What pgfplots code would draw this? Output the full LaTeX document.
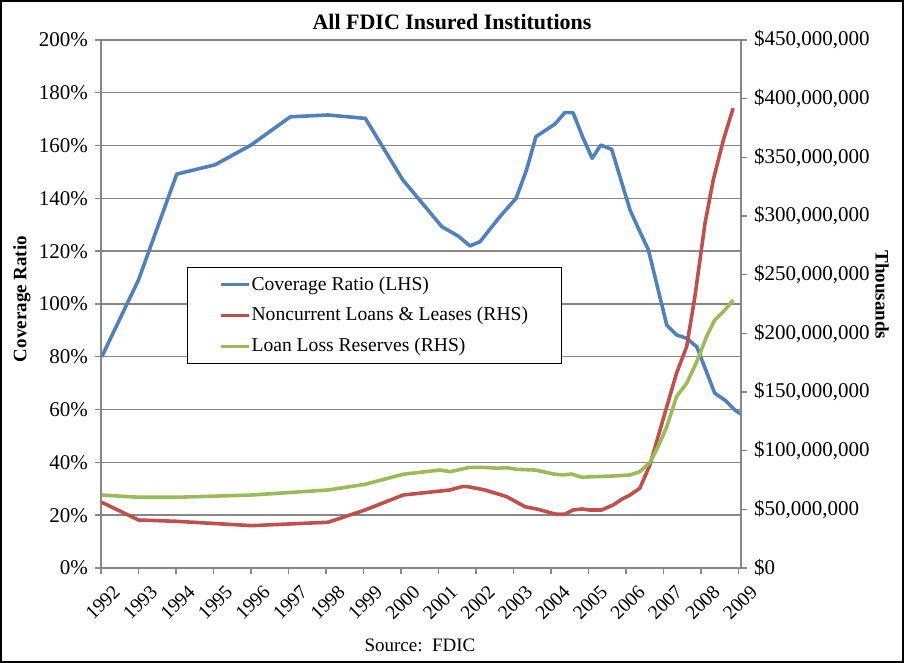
\documentclass[border=0pt]{standalone}
\usepackage{fontspec}
\setmainfont{Liberation Serif}
\usepackage{pgfplots}
\pgfplotsset{compat=1.18}

\definecolor{cBlue}{HTML}{4F81BD}
\definecolor{cRed}{HTML}{C0504D}
\definecolor{cGreen}{HTML}{9BBB59}
\definecolor{cGrid}{HTML}{878787}

\pgfplotsset{
  fdic/.style={
    at={(50.5pt,47.5pt)}, anchor=south west,
    scale only axis, width=320pt, height=264pt,
    xmin=1992, xmax=2009.07,
    tick align=outside, major tick length=3pt,
    axis line style={cGrid, line width=0.7pt},
    tick style={cGrid, line width=0.7pt},
    tick label style={font=\fontsize{10.5}{12}\selectfont, black},
    /pgf/number format/assume math mode=true,
  },
}

\begin{document}
\begin{tikzpicture}
\draw[black, line width=0.8pt] (0.4pt,0.4pt) rectangle (451.6pt,331.1pt);

\begin{axis}[fdic,
  ymin=0, ymax=200,
  axis y line*=left, axis x line*=bottom,
  ytick={0,20,...,200},
  yticklabels={0\%,20\%,40\%,60\%,80\%,100\%,120\%,140\%,160\%,180\%,200\%},
  xtick={1992,1993,...,2009},
  xticklabels={1992,1993,1994,1995,1996,1997,1998,1999,2000,2001,2002,2003,2004,2005,2006,2007,2008,2009},
  xticklabel style={xshift=5.5pt, yshift=-4pt, rotate=45, anchor=north east, inner sep=0.5pt,
    font=\fontsize{9.8}{12}\selectfont},
  ymajorgrids, grid style={cGrid, line width=0.7pt},
]
% coverage ratio, percent
\addplot[cBlue, line width=1.8pt, line join=round] coordinates {
  (1992.02,80.0) (1993.00,109.1) (1994.02,149.2) (1995.04,152.7) (1996.00,160.2)
  (1997.05,170.9) (1998.05,171.6) (1999.05,170.3) (2000.05,147.0) (2001.09,129.3)
  (2001.52,125.8) (2001.84,122.0) (2002.11,123.6) (2002.64,133.1) (2003.07,140.0)
  (2003.35,150.8) (2003.60,163.4) (2004.11,168.2) (2004.37,172.5) (2004.59,172.5)
  (2004.86,162.8) (2005.10,155.2) (2005.33,160.2) (2005.62,158.6) (2006.11,135.6)
  (2006.33,128.7) (2006.60,120.5) (2007.09,92.0) (2007.35,88.3) (2007.62,87.0)
  (2007.89,83.8) (2008.37,66.2) (2008.64,63.6) (2008.91,59.8) (2009.07,58.3)
};
\end{axis}

\begin{axis}[fdic,
  ymin=0, ymax=450,
  axis x line=none, axis y line*=right,
  ytick={0,50,...,450},
  yticklabels={{\$0},{\$50,000,000},{\$100,000,000},{\$150,000,000},{\$200,000,000},{\$250,000,000},{\$300,000,000},{\$350,000,000},{\$400,000,000},{\$450,000,000}},
  legend style={at={(0.134,0.570)}, anchor=north west, draw=black, line width=0.6pt,
    fill=white, font=\fontsize{9.8}{11}\selectfont, inner xsep=16pt, inner ysep=2.5pt,
    row sep=3pt, nodes={inner xsep=0.6pt}},
  legend cell align=left,
  legend image code/.code={\draw[#1, line width=1.5pt] (0pt,0pt) -- (14pt,0pt);},
]
\addlegendimage{cBlue}
\addlegendentry{Coverage Ratio (LHS)}
% noncurrent loans and leases, RHS scale in millions of the axis unit
\addplot[cRed, line width=1.8pt, line join=round] coordinates {
  (1992.02,56.0) (1993.00,40.9) (1994.00,39.8) (1996.02,36.1) (1998.06,39.0)
  (1999.04,49.4) (2000.06,62.2) (2001.31,66.5) (2001.62,69.3) (2001.79,69.3)
  (2002.24,66.5) (2002.82,60.8) (2003.31,52.2) (2003.66,50.0) (2004.11,46.0)
  (2004.37,45.8) (2004.59,49.4) (2004.82,50.3) (2005.04,49.4) (2005.35,49.4)
  (2005.66,53.7) (2005.89,58.6) (2006.11,62.2) (2006.37,67.9) (2006.64,87.8)
  (2007.09,137.5) (2007.35,165.9) (2007.62,188.6) (2007.84,231.2) (2008.11,293.8)
  (2008.33,330.7) (2008.60,364.8) (2008.86,391.8)
};
\addlegendentry{Noncurrent Loans \& Leases (RHS)}
% loan loss reserves
\addplot[cGreen, line width=1.8pt, line join=round] coordinates {
  (1992.02,62.2) (1993.00,60.3) (1994.06,60.3) (1996.02,62.2) (1998.06,66.5)
  (1999.04,71.3) (2000.06,79.9) (2001.04,83.5) (2001.31,82.1) (2001.84,85.8)
  (2002.19,85.8) (2002.59,85.0) (2002.82,85.5) (2003.09,84.1) (2003.57,83.5)
  (2003.79,82.1) (2004.11,79.9) (2004.33,79.3) (2004.55,80.1) (2004.82,77.3)
  (2005.13,77.8) (2005.66,78.4) (2006.11,79.3) (2006.37,82.1) (2006.64,89.9)
  (2006.86,103.4) (2007.09,120.4) (2007.35,146.0) (2007.62,157.4) (2007.89,175.8)
  (2008.15,197.1) (2008.37,211.4) (2008.60,218.4) (2008.86,228.4)
};
\addlegendentry{Loan Loss Reserves (RHS)}
\end{axis}

\node[font=\fontsize{11}{13}\selectfont\bfseries] at (226pt,320.5pt) {All FDIC Insured Institutions};
\node[font=\fontsize{9.5}{11}\selectfont\bfseries, rotate=90] at (11pt,182pt) {Coverage Ratio};
\node[font=\fontsize{9.5}{11}\selectfont\bfseries, rotate=-90] at (441pt,184pt) {Thousands};
\node[font=\fontsize{9.5}{11}\selectfont] at (210pt,9pt) {Source:\ \ FDIC};
\end{tikzpicture}
\end{document}
